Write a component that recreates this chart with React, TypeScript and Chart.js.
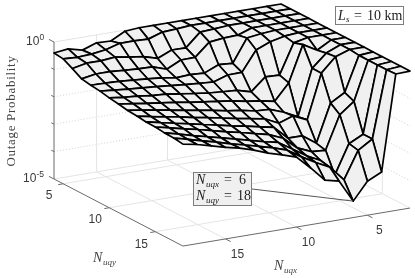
import React, { useEffect, useRef } from "react";
import { Chart, registerables } from "chart.js";

Chart.register(...registerables);

// log10(outage probability); columns follow nuqxValues, one array per Nuqy value
const nuqxValues = [18, 17, 16, 15, 14, 13, 12, 11, 10, 9, 8, 7, 6, 5, 4, 3, 2];
const nuqyValues = [4, 5, 6, 7, 8, 9, 10, 11, 12, 13, 14, 15, 16, 17, 18];
const logP04 = [-0.40,-0.34,-0.47,-0.29,-0.31,-0.04,0,0,0,0,0,0,0,0,0,0,0];
const logP05 = [-0.44,-0.47,-0.44,-0.37,-0.22,-0.22,-0.24,-0.07,-0.04,0,0,0,0,0,0,0,0];
const logP06 = [-0.62,-0.51,-0.51,-0.46,-0.55,-0.62,-0.77,-0.55,-0.56,-0.07,-0.04,0,0,0,0,0,0];
const logP07 = [-0.82,-0.73,-0.73,-0.77,-0.80,-0.82,-0.99,-0.74,-0.73,-0.26,-0.20,-0.18,0,0,0,0,0];
const logP08 = [-0.88,-0.89,-0.91,-0.95,-0.99,-1.04,-1.13,-1.10,-1.13,-0.91,-0.95,-0.11,-0.04,0,0,0,0];
const logP09 = [-0.92,-0.97,-1.02,-1.06,-1.10,-1.15,-1.20,-1.24,-1.28,-1.11,-1.10,-0.37,-0.16,-0.04,0,0,0];
const logP10 = [-0.99,-1.06,-1.10,-1.17,-1.20,-1.28,-1.35,-1.42,-1.46,-1.50,-1.64,-1.18,-1.20,-0.11,0,0,0];
const logP11 = [-1.04,-1.11,-1.19,-1.26,-1.33,-1.41,-1.48,-1.55,-1.62,-1.72,-1.79,-1.90,-1.31,0,-0.29,0,0];
const logP12 = [-1.10,-1.17,-1.26,-1.35,-1.44,-1.53,-1.62,-1.72,-1.79,-1.90,-1.93,-2.12,-2.37,-0.69,-0.22,0,0];
const logP13 = [-1.13,-1.24,-1.33,-1.42,-1.53,-1.62,-1.72,-1.83,-1.92,-2.01,-2.26,-2.08,-2.31,-0.69,-0.18,0,0];
const logP14 = [-1.17,-1.28,-1.39,-1.50,-1.61,-1.72,-1.83,-1.93,-2.04,-2.15,-2.63,-2.63,-2.99,-1.61,-1.31,-0.04,0];
const logP15 = [-1.18,-1.30,-1.42,-1.53,-1.66,-1.79,-1.90,-2.03,-2.15,-2.37,-2.81,-3.03,-3.07,-1.86,-1.46,-0.04,0];
const logP16 = [-1.22,-1.35,-1.49,-1.62,-1.75,-1.88,-2.01,-2.15,-2.26,-2.59,-2.92,-3.18,-3.80,-2.74,-2.48,-0.04,0];
const logP17 = [-1.23,-1.37,-1.51,-1.64,-1.79,-1.92,-2.06,-2.20,-2.37,-2.70,-2.99,-3.25,-3.80,-2.81,-2.48,-0.04,0];
const logP18 = [-1.28,-1.38,-1.52,-1.66,-1.77,-1.93,-2.13,-2.28,-2.45,-2.93,-3.46,-3.58,-4.40,-3.76,-3.51,-0.02,0];
const surfaceRows = [logP04, logP05, logP06, logP07, logP08, logP09, logP10, logP11, logP12, logP13, logP14, logP15, logP16, logP17, logP18];

const nyTicks = [5, 10, 15];
const nxTicks = [15, 10, 5];
const zDecades = [-4, -3, -2, -1];
const zMajor = [0, -5];

// orthographic view of the 3D axes box onto the canvas scale
const project = (nx: number, ny: number, logP: number) => ({
  x: 54 + (18 - nx) * 14.19 + (ny - 4) * 9.21,
  y: 179 - (18 - nx) * 2.375 + (ny - 4) * 4.79 - (logP + 5) * 27.4,
});

const line = (data: { x: number; y: number }[], color: string, width = 1, dash: number[] = []) => ({
  data,
  showLine: true,
  fill: false,
  borderColor: color,
  borderWidth: width,
  borderDash: dash,
  pointRadius: 0,
  tension: 0,
});

const serif = '"Liberation Serif"';
const sans = '"Liberation Sans"';
const ink = "#3a3a3a";

function mathN(ctx: CanvasRenderingContext2D, sub: string, x: number, y: number) {
  ctx.font = `italic 14px ${serif}`;
  ctx.fillText("N", x, y);
  ctx.font = `italic 9px ${serif}`;
  ctx.fillText(sub, x + 10, y + 3);
}

const textPlugin = {
  id: "texts",
  afterDatasetsDraw(chart: Chart) {
    const ctx = chart.ctx;
    ctx.save();
    ctx.textBaseline = "alphabetic";
    ctx.textAlign = "left";

    // annotation boxes
    ctx.lineWidth = 1;
    ctx.strokeStyle = "#7d7d7d";
    ctx.fillStyle = "#ffffff";
    ctx.fillRect(335.5, 6.5, 68, 18);
    ctx.strokeRect(335.5, 6.5, 68, 18);
    ctx.fillStyle = "#f0f0f0";
    ctx.fillRect(193.5, 172.5, 58, 33);
    ctx.strokeRect(193.5, 172.5, 58, 33);

    ctx.fillStyle = "#222222";
    ctx.font = `italic 14px ${serif}`;
    ctx.fillText("L", 338, 20);
    ctx.font = `italic 9px ${serif}`;
    ctx.fillText("s", 346, 22);
    ctx.font = `14px ${serif}`;
    ctx.fillText("=", 354, 20);
    ctx.fillText("10 km", 367, 20);

    mathN(ctx, "uqx", 196, 184);
    ctx.font = `14px ${serif}`;
    ctx.fillText("=", 224, 184);
    ctx.fillText("6", 239, 184);
    mathN(ctx, "uqy", 196, 200);
    ctx.font = `14px ${serif}`;
    ctx.fillText("=", 224, 200);
    ctx.fillText("18", 237, 200);

    // tick labels
    ctx.fillStyle = ink;
    ctx.textAlign = "center";
    ctx.font = `12px ${sans}`;
    nyTicks.forEach((ny, i) => {
      const p = project(18, ny, -5);
      ctx.fillText(String(ny), p.x - 14, p.y + 15 + i * 0.5);
    });
    nxTicks.forEach((nx) => {
      const p = project(nx, 18, -5);
      ctx.fillText(String(nx), p.x + 12, p.y + 19);
    });
    ctx.textAlign = "left";
    zMajor.forEach((z) => {
      const p = project(18, 4, z);
      const base = p.y + 3;
      const x = z === 0 ? 26 : 23;
      ctx.font = `12px ${sans}`;
      ctx.fillText("10", x, base);
      ctx.font = `8.5px ${sans}`;
      ctx.fillText(String(z), x + 13.5, base - 5);
    });

    // axis titles
    ctx.fillStyle = "#444444";
    mathN(ctx, "uqy", 93, 262);
    mathN(ctx, "uqx", 274, 270);
    ctx.translate(15, 111);
    ctx.rotate(-Math.PI / 2);
    ctx.textAlign = "center";
    ctx.font = `13px ${serif}`;
    (ctx as any).letterSpacing = "0.7px";
    ctx.fillText("Outage Probability", 0, 0);
    ctx.restore();
  },
};

export default function App() {
  const ref = useRef<HTMLCanvasElement>(null);
  useEffect(() => {
    const datasets: any[] = [];
    // data tip leader
    datasets.push(line([project(6, 18, -4.4), { x: 252, y: 189 }], "#555555", 1));

    // surface cells, front to back (first dataset is painted last)
    for (let u = 0; u < nuqxValues.length - 1; u++) {
      for (let v = nuqyValues.length - 2; v >= 0; v--) {
        const a = nuqxValues[u];
        const b = nuqxValues[u + 1];
        const c = nuqyValues[v];
        const d = nuqyValues[v + 1];
        const first = project(a, c, surfaceRows[v][u]);
        datasets.push({
          data: [first, project(b, c, surfaceRows[v][u + 1]), project(b, d, surfaceRows[v + 1][u + 1]), project(a, d, surfaceRows[v + 1][u]), first],
          showLine: true,
          fill: "shape",
          backgroundColor: "#f0f0f0",
          borderColor: "#000000",
          borderWidth: 1.7,
          borderJoinStyle: "round",
          borderCapStyle: "round",
          pointRadius: 0,
          tension: 0,
        });
      }
    }

    // axes and ticks
    const axis = "#6a6a6a";
    datasets.push(line([project(18, 4, -5), project(18, 4, 0)], axis, 1));
    datasets.push(line([project(18, 4, -5), project(18, 18, -5)], axis, 1));
    datasets.push(line([project(18, 18, -5), project(2, 18, -5)], axis, 1));
    zMajor.concat(zDecades).forEach((z) => {
      const p = project(18, 4, z);
      const k = zMajor.includes(z) ? 0.55 : 0.3;
      datasets.push(line([p, project(18, 4 - k, z)], axis, 1));
    });
    nyTicks.forEach((ny) => {
      datasets.push(line([project(18, ny, -5), project(18.35, ny, -5)], axis, 1));
    });
    nxTicks.forEach((nx) => {
      datasets.push(line([project(nx, 18, -5), project(nx, 18.55, -5)], axis, 1));
    });

    // walls and floor grid
    const grid = "#e4e4e4";
    nyTicks.forEach((ny) => {
      datasets.push(line([project(18, ny, -5), project(2, ny, -5), project(2, ny, 0)], grid));
    });
    nxTicks.forEach((nx) => {
      datasets.push(line([project(nx, 18, -5), project(nx, 4, -5), project(nx, 4, 0)], grid));
    });
    zMajor.forEach((z) => {
      datasets.push(line([project(18, 4, z), project(2, 4, z), project(2, 18, z)], grid));
    });
    zDecades.forEach((z) => {
      datasets.push(line([project(18, 4, z), project(2, 4, z), project(2, 18, z)], "#d2d2d2", 1, [1, 2]));
    });

    const chart = new Chart(ref.current as HTMLCanvasElement, {
      type: "scatter",
      data: { datasets },
      options: {
        animation: false,
        responsive: false,
        events: [],
        layout: { padding: 0 },
        plugins: { legend: { display: false }, tooltip: { enabled: false } },
        scales: {
          x: { type: "linear", display: false, min: 0, max: 415 },
          y: { type: "linear", display: false, min: 0, max: 278, reverse: true },
        },
      },
      plugins: [textPlugin as any],
    });
    return () => chart.destroy();
  }, []);
  return (
    <div style={{ position: "absolute", left: 0, top: 0, width: 415, height: 278, background: "#fff" }}>
      <canvas ref={ref} width={415} height={278} style={{ display: "block" }} />
    </div>
  );
}
